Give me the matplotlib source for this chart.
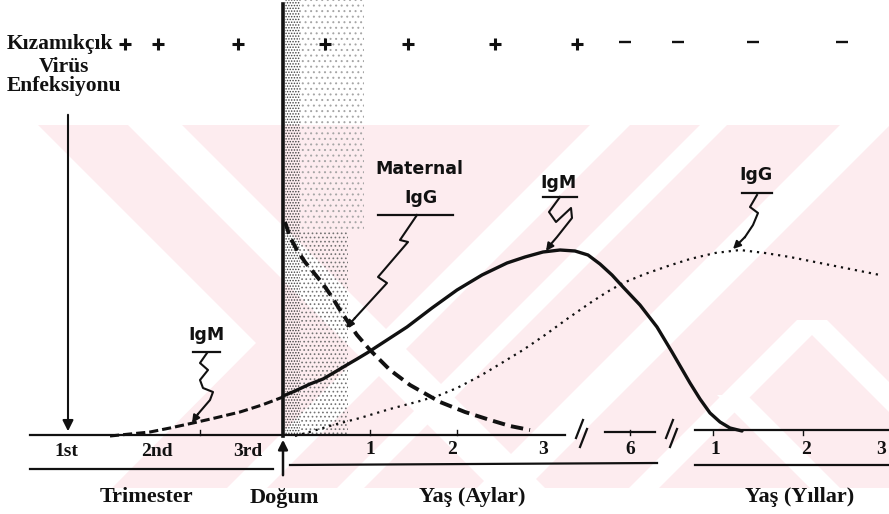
import matplotlib.pyplot as plt
from matplotlib.patches import Polygon, Rectangle

plt.rcParams['hatch.linewidth'] = 0.7

# ---- data (pixel space, y downward) ----
trimester_labels = ['1st', '2nd', '3rd']
trimester_x = [66, 157, 248]
month_labels = ['1', '2', '3', '6']
month_x = [370, 452, 543, 630]
year_labels = ['1', '2', '3']
year_x = [715, 806, 881]

infection_plus_x = [125, 158, 238, 325, 408, 495, 577]
infection_minus_x = [625, 678, 753, 842]

fetal_igm_x = [110, 130, 150, 170, 193, 215, 240, 262, 283]
fetal_igm_y = [436, 434, 432, 428, 423, 418, 412, 405, 397]

igm_x = [283, 295, 310, 323, 335, 345, 357, 367, 387, 407, 432, 457, 482, 507, 525,
         543, 560, 575, 588, 600, 612, 623, 640, 657, 672, 690, 700, 710, 720, 730, 742]
igm_y = [396, 391, 384, 379, 372, 366, 359, 353, 340, 327, 308, 290, 275, 263, 257,
         252, 250, 251, 255, 264, 275, 287, 305, 327, 352, 383, 399, 413, 422, 428, 431]

maternal_igg_x = [285, 290, 297, 305, 314, 323, 332, 340, 348, 357, 370, 390, 410, 440,
                  465, 490, 510, 530]
maternal_igg_y = [222, 237, 250, 262, 273, 284, 297, 310, 322, 335, 350, 370, 385, 402,
                  412, 420, 426, 430]

igg_x = [295, 313, 333, 360, 390, 420, 440, 457, 480, 500, 523, 545, 567, 590, 607, 623,
         645, 668, 690, 715, 740, 765, 790, 815, 840, 860, 880]
igg_y = [436, 431, 425, 418, 409, 401, 395, 388, 376, 364, 350, 335, 319, 303, 292, 283,
         274, 266, 259, 253, 250, 253, 257, 262, 267, 271, 275]

fig = plt.figure(figsize=(8.89, 5.14), dpi=100)
ax = fig.add_axes([0, 0, 1, 1])
ax.set_xlim(0, 889)
ax.set_ylim(514, 0)
ax.axis('off')

# ---- watermark (light pink stripes) ----
pink = '#fdecef'
box = Rectangle((35, 125), 854, 363, facecolor=pink, edgecolor='none', zorder=0)
ax.add_patch(box)
white_shapes = [
    [(0, 125), (38, 125), (256, 343), (112, 488), (0, 488)],
    [(128, 125), (182, 125), (545, 488), (491, 488)],
    [(590, 125), (630, 125), (267, 488), (227, 488)],
    [(700, 125), (727, 125), (364, 488), (337, 488)],
    [(840, 125), (890, 125), (527, 488), (477, 488)],
    [(797, 320), (827, 320), (995, 488), (965, 488)],
    [(797, 320), (827, 320), (659, 488), (629, 488)],
    [(717, 395), (747, 395), (840, 488), (810, 488)],
]
for pts in white_shapes:
    p = Polygon(pts, closed=True, facecolor='white', edgecolor='none', zorder=0.5)
    ax.add_patch(p)
    p.set_clip_path(box)

# ---- stippled band right of birth line ----
ax.add_patch(Rectangle((285, 0), 15, 436, facecolor='none', edgecolor='0.25',
                       hatch='......', linewidth=0, zorder=1))
ax.add_patch(Rectangle((300, 230), 48, 206, facecolor='none', edgecolor='0.45',
                       hatch='....', linewidth=0, zorder=1))
ax.add_patch(Rectangle((300, 0), 64, 230, facecolor='none', edgecolor='0.65',
                       hatch='...', linewidth=0, zorder=1))

ink = '#111111'

# ---- axes / baselines ----
ax.plot([30, 565], [435, 435], color=ink, lw=1.6, zorder=3)
ax.plot([605, 655], [432, 432], color=ink, lw=1.6, zorder=3)
ax.plot([695, 889], [430, 430], color=ink, lw=1.6, zorder=3)
ax.plot([30, 273], [469, 469], color=ink, lw=1.6, zorder=3)
ax.plot([290, 657], [465, 463], color=ink, lw=1.6, zorder=3)
ax.plot([695, 889], [465, 465], color=ink, lw=1.6, zorder=3)
for bx in [200, 370, 457, 630, 713, 803]:
    ax.plot([bx, bx], [430, 435], color=ink, lw=1, zorder=3)
# break marks
for bx in [582, 672]:
    ax.plot([bx - 6, bx + 1], [438, 420], color=ink, lw=1.6, zorder=3)
    ax.plot([bx - 2, bx + 5], [447, 429], color=ink, lw=1.6, zorder=3)

# birth line and arrows
ax.plot([283, 283], [4, 436], color=ink, lw=2.6, zorder=4)
ax.annotate('', xy=(283, 437), xytext=(283, 478),
            arrowprops=dict(arrowstyle='-|>', color=ink, lw=1.8, mutation_scale=14), zorder=4)
ax.annotate('', xy=(68, 434), xytext=(68, 112),
            arrowprops=dict(arrowstyle='-|>', color=ink, lw=1.5, mutation_scale=16), zorder=4)

# ---- curves ----
ax.plot(fetal_igm_x, fetal_igm_y, color=ink, lw=2.2, dashes=(3, 1.3), zorder=5)
ax.plot(igm_x, igm_y, color=ink, lw=2.4, solid_capstyle='round', solid_joinstyle='round', zorder=5)
ax.plot(maternal_igg_x, maternal_igg_y, color=ink, lw=2.8, dashes=(3.2, 1.6), zorder=5)
ax.plot(igg_x, igg_y, color=ink, lw=1.6, dashes=(1, 2.2), zorder=5)

# ---- infection markers ----
ax.plot(infection_plus_x, [44] * len(infection_plus_x), linestyle='none', marker='+',
        markersize=9, markeredgewidth=2.2, color=ink, zorder=5)
ax.plot(infection_minus_x, [42] * len(infection_minus_x), linestyle='none', marker='_',
        markersize=8, markeredgewidth=1.7, color=ink, zorder=5)

# ---- callout labels with squiggly leaders ----
lab_font = dict(family='DejaVu Sans', fontsize=12.5, fontweight='bold', color=ink, zorder=6)
callouts = [
    # text lines, text pos, underline, squiggle, tip
    (['Maternal', 'IgG'], [(419, 169), (421, 198)], (378, 453, 215),
     [(417, 215), (400, 240), (408, 242), (378, 277), (387, 283), (355, 318)], (346, 328)),
    (['IgM'], [(558, 183)], (543, 577, 197),
     [(560, 197), (549, 212), (556, 222), (571, 208), (572, 218), (557, 237), (551, 244)], (546, 251)),
    (['IgG'], [(756, 175)], (742, 772, 193),
     [(757, 195), (750, 207), (758, 213), (753, 225), (745, 237)], (733, 249)),
    (['IgM'], [(207, 335)], (193, 220, 352),
     [(207, 353), (200, 363), (208, 370), (200, 380), (203, 388), (213, 392), (210, 400), (198, 414)], (192, 423)),
]
for lines, poss, (ux0, ux1, uy), sq, tip in callouts:
    for t, (tx, ty) in zip(lines, poss):
        ax.text(tx, ty, t, ha='center', va='center', **lab_font)
    ax.plot([ux0, ux1], [uy, uy], color=ink, lw=1.6, zorder=6)
    ax.plot([p[0] for p in sq], [p[1] for p in sq], color=ink, lw=1.5, zorder=6)
    ax.annotate('', xy=tip, xytext=sq[-1],
                arrowprops=dict(arrowstyle='-|>', color=ink, lw=1.5, mutation_scale=11,
                                shrinkA=0, shrinkB=0), zorder=6)

# ---- texts ----
serif_b = dict(family='Liberation Serif', fontweight='bold', color=ink, zorder=6)
ax.text(7, 44, 'Kızamıkçık', ha='left', va='center', fontsize=15.5, **serif_b)
ax.text(64, 67, 'Virüs', ha='center', va='center', fontsize=15.5, **serif_b)
ax.text(7, 86, 'Enfeksiyonu', ha='left', va='center', fontsize=15.5, **serif_b)

tick_font = dict(family='Liberation Serif', fontsize=14, fontweight='bold', color=ink, zorder=6)
for lab, x in zip(trimester_labels, trimester_x):
    ax.text(x, 451, lab, ha='center', va='center', **tick_font)
for lab, x in zip(month_labels, month_x):
    ax.text(x, 450, lab, ha='center', va='center', **tick_font)
for lab, x in zip(year_labels, year_x):
    ax.text(x, 449, lab, ha='center', va='center', **tick_font)

ax.text(146, 497, 'Trimester', ha='center', va='center', fontsize=16, **serif_b)
ax.text(284, 498, 'Doğum', ha='center', va='center', fontsize=16, **serif_b)
ax.text(472, 497, 'Yaş (Aylar)', ha='center', va='center', fontsize=16, **serif_b)
ax.text(800, 497, 'Yaş (Yıllar)', ha='center', va='center', fontsize=16, **serif_b)

fig.savefig('out.png', dpi=100)
plt.close(fig)
